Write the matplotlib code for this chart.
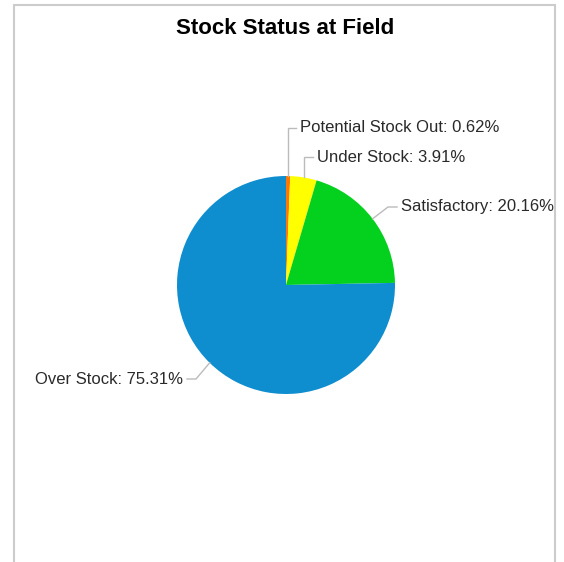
import numpy as np
import matplotlib.pyplot as plt
from matplotlib.patches import Rectangle

# data
categories = ["Potential Stock Out", "Under Stock", "Satisfactory", "Over Stock"]
shares = [0.62, 3.91, 20.16, 75.31]
colors = ["#FF7700", "#FFFF00", "#04D01E", "#0E8DCF"]

# label text anchors (pixels) and elbow points of connectors, per slice
label_pos = [(300, 128), (317, 157), (401, 207), (183, 379)]
elbow_pos = [(None, 128), (None, 157), (388, 207), (196, 379)]
label_ends = [296, 313, 397, 187]

W, H = 564, 562
CX, CY, R = 286, 285, 109


def px(x, y):
    '''pixel coords -> data coords (pie radius = 1)'''
    return (x - CX) / R, (CY - y) / R


fig = plt.figure(figsize=(W / 100, H / 100), dpi=100)
ax = fig.add_axes([0, 0, 1, 1])

# frame of the chart panel (bottom runs off the image)
fig.patches.append(Rectangle((14 / W, -0.1), (555 - 14) / W, 1.1 - 5 / H,
                             transform=fig.transFigure, fill=False,
                             edgecolor="#CCCCCC", linewidth=1.5))

wedges, _ = ax.pie(shares, colors=colors, startangle=90, counterclock=False,
                   radius=1, center=(0, 0), frame=True)
ax.axis("off")
ax.set_xlim(-CX / R, (W - CX) / R)
ax.set_ylim((CY - H) / R, CY / R)

for w, name, val, (tx, ty), (exx, eyy), end in zip(
        wedges, categories, shares, label_pos, elbow_pos, label_ends):
    mid = np.deg2rad((w.theta1 + w.theta2) / 2)
    sx, sy = np.cos(mid), np.sin(mid)
    ex_d = px(exx, 0)[0] if exx is not None else sx
    ey_d = px(0, eyy)[1]
    end_d = px(end, 0)[0]
    ax.plot([sx, ex_d, end_d], [sy, ey_d, ey_d], color="#BBBBBB", lw=1,
            solid_joinstyle="miter")
    x_d, y_d = px(tx, ty)
    ha = "left" if tx > CX else "right"
    ax.text(x_d, y_d, f"{name}: {val:.2f}%", ha=ha, va="center",
            fontsize=12, family="Liberation Sans", color="#2A2A2A")

fig.text(285 / W, 1 - 28 / H, "Stock Status at Field", ha="center", va="center",
         fontsize=16, fontweight="bold", family="Liberation Sans", color="#000000")

fig.savefig("out.png", dpi=100)
